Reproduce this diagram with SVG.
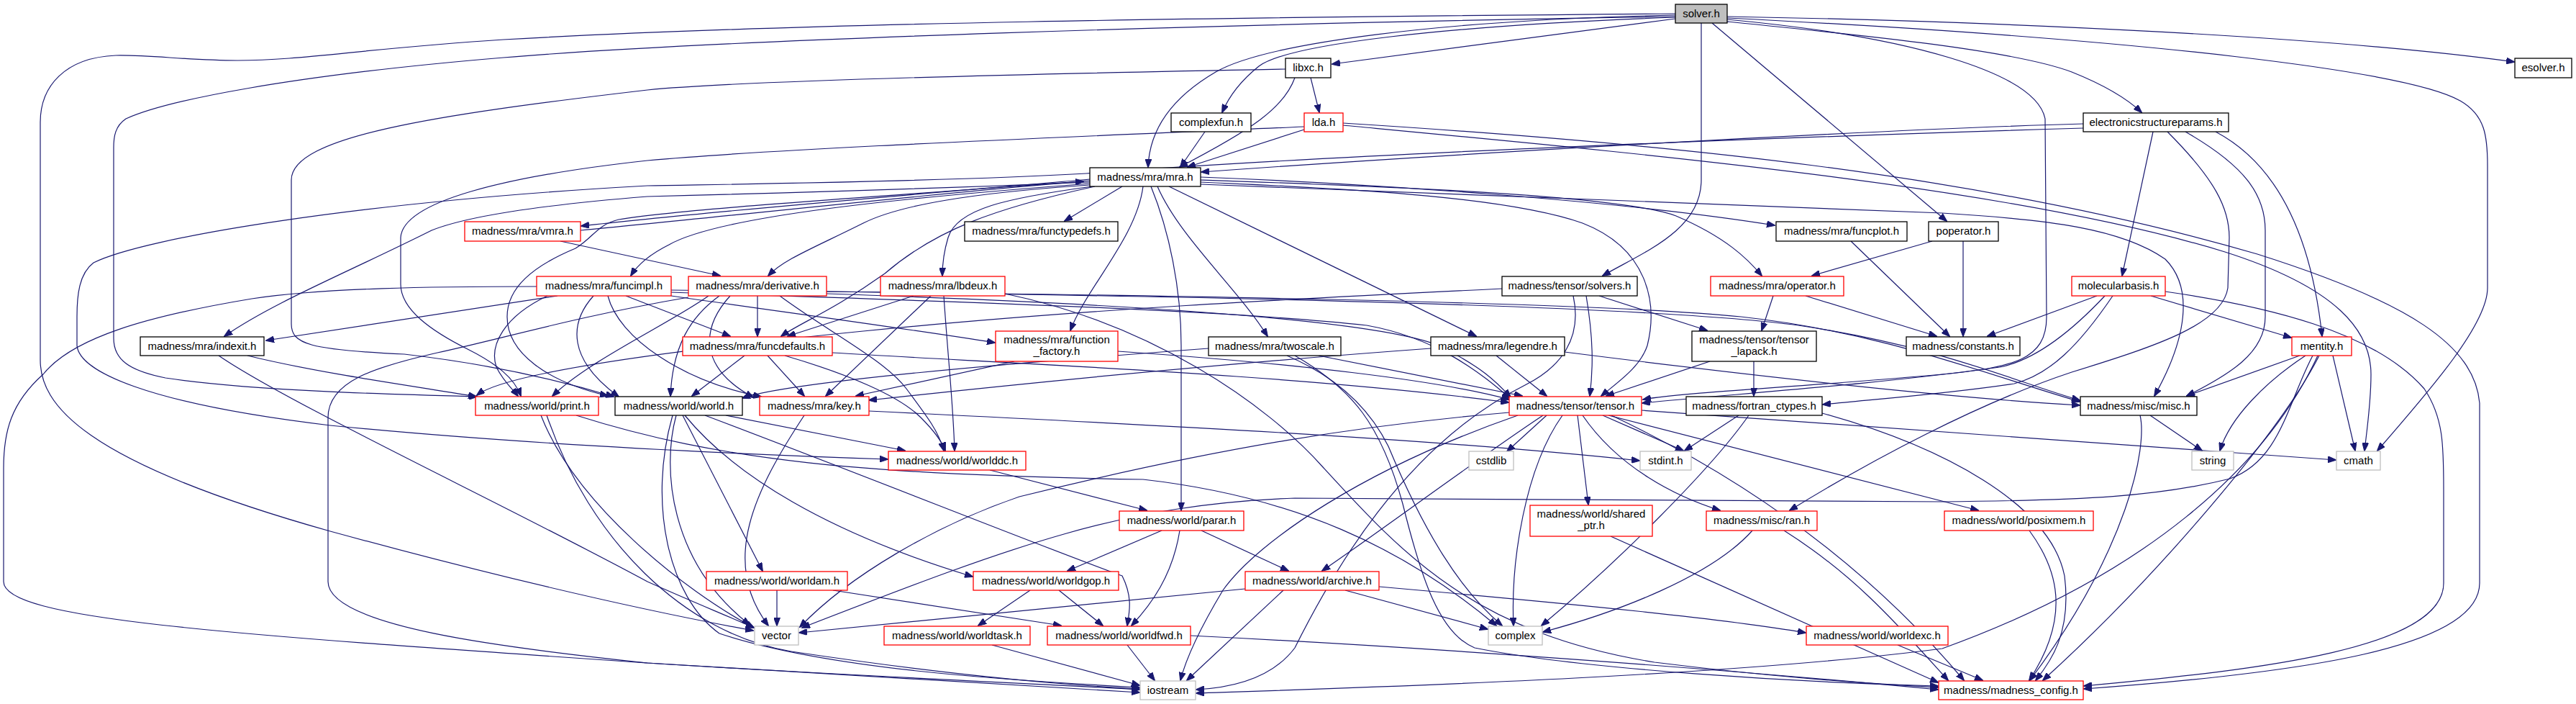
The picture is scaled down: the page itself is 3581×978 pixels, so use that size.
<svg xmlns="http://www.w3.org/2000/svg" width="3581" height="978" viewBox="0 0 3581 978">
<style>
.e path{fill:none;stroke:#191970;stroke-width:1.2;marker-end:url(#a)}
.n rect{fill:#fff;stroke:#000;stroke-width:1.3}
.n.r rect{stroke:#ff0000}
.n.g rect{stroke:#bfbfbf}
.n.s rect{fill:#bfbfbf}
text{font-family:"Liberation Sans",Arial,sans-serif;font-size:15px;text-anchor:middle;fill:#000}
</style>
<defs>
<marker id="a" markerWidth="12" markerHeight="9" refX="11" refY="4.5" orient="auto" markerUnits="userSpaceOnUse"><path d="M0,0 L12,4.5 L0,9 z" fill="#191970" stroke="#191970" stroke-width="1"/></marker>
</defs>
<rect width="3581" height="978" fill="#fff"/>
<g id="edges" class="e">
<path d="M2329,26 L1852,89"/>
<path d="M2401,23 C2800,30 3250,52 3495,86"/>
<path d="M2329,21 C2000,28 1760,60 1690,100 C1630,135 1598,180 1596,232"/>
<path d="M2329,24 C2000,36 1790,62 1750,92 C1725,112 1708,135 1699,156"/>
<path d="M2401,30 C2600,50 2800,70 2880,100 C2930,120 2960,140 2977,156"/>
<path d="M2380,32 L2706,307"/>
<path d="M2365,32 L2365,250 C2365,320 2285,350 2228,383"/>
<path d="M2401,27 C2650,50 2830,100 2843,165 L2845,440 C2845,500 2800,510 2700,520 C2500,538 2340,545 2284,555"/>
<path d="M2401,25 C3000,55 3350,100 3420,140 C3455,160 3458,190 3458,230 L3458,400 C3458,450 3380,540 3305,626"/>
<path d="M2329,19 C1700,24 1100,32 700,55 C500,68 420,84 330,84 C260,84 210,76 161,77 C90,80 56,120 56,170 L56,500 C56,560 110,640 459,738 C650,790 850,840 1047,876"/>
<path d="M2329,23 C1700,33 1000,55 700,80 C400,105 230,140 175,165 C160,175 158,190 158,205 L158,470 C158,500 180,515 230,525 C350,543 550,548 663,551"/>
<path d="M1800,108 C1785,150 1740,180 1640,232"/>
<path d="M1822,108 L1834,156"/>
<path d="M1787,96 C1300,105 1000,115 900,125 C600,160 405,190 405,250 L405,450 C405,478 430,486 562,492 C700,508 800,535 853,551"/>
<path d="M1675,183 L1641,232"/>
<path d="M1813,180 L1651,232"/>
<path d="M1813,176 C1500,190 1100,205 900,223 C700,245 560,280 557,330 L557,395 C557,430 600,460 650,485 C690,505 715,525 724,550"/>
<path d="M1867,174 C2300,215 2800,260 3093,350 C3250,400 3296,460 3296,520 C3296,560 3290,600 3287,626"/>
<path d="M1867,171 C2300,198 2750,240 3138,353 C3350,420 3440,480 3447,560 L3447,810 C3447,900 3200,935 2897,957"/>
<path d="M2896,172 C2600,180 2000,215 1670,239"/>
<path d="M2896,178 C2500,190 1900,212 1510,241 C1300,253 1000,256 900,258 C500,280 200,330 130,365 C110,380 107,410 107,440 L107,480 C110,515 200,560 459,591 C700,615 1000,630 1234,638"/>
<path d="M2993,183 L2950,383"/>
<path d="M3038,183 C3120,230 3149,270 3149,320 L3149,440 C3149,490 3100,520 3040,550"/>
<path d="M3080,183 C3150,220 3210,300 3228,467"/>
<path d="M3013,183 C3080,250 3099,290 3099,330 L3097,400 C3090,450 3000,480 2880,517 C2750,560 2600,640 2488,709"/>
<path d="M2915,411 L2763,467"/>
<path d="M2990,411 L3185,469"/>
<path d="M3010,405 C3150,425 3300,460 3370,540 C3397,580 3397,620 3397,680 L3397,810 C3397,900 3150,930 2897,953"/>
<path d="M2926,411 C2880,460 2830,500 2780,510 C2600,535 2400,548 2283,560"/>
<path d="M2937,411 C2890,480 2850,520 2800,533 C2700,548 2600,555 2534,562"/>
<path d="M1515,249 C1300,268 1000,292 808,314"/>
<path d="M807,320 C1000,302 1300,268 1506,252"/>
<path d="M779,335 L1001,383"/>
<path d="M1560,259 L1480,307"/>
<path d="M1515,255 C1250,275 1000,300 930,340 C900,355 885,370 877,383"/>
<path d="M1515,257 C1350,268 1250,285 1200,310 C1130,345 1090,360 1068,383"/>
<path d="M1518,259 C1400,275 1330,290 1318,330 C1312,350 1310,370 1310,383"/>
<path d="M1522,259 C1380,290 1300,320 1230,380 C1160,430 1110,450 1086,467"/>
<path d="M1589,259 C1580,330 1510,400 1488,459"/>
<path d="M1609,259 C1640,330 1720,400 1762,467"/>
<path d="M1625,259 L2052,467"/>
<path d="M1669,250 C1900,258 2250,270 2330,300 C2400,330 2430,360 2449,383"/>
<path d="M1669,246 C1900,255 2250,278 2467,313"/>
<path d="M1600,259 C1625,320 1642,400 1642,480 L1642,709"/>
<path d="M1669,253 C1900,263 2100,275 2200,310 C2290,345 2305,420 2290,480 C2280,510 2250,530 2226,550"/>
<path d="M1669,256 C2100,270 2500,290 2700,296 C2850,305 2950,318 3010,360 C3050,400 3040,470 2995,550"/>
<path d="M1515,253 C1300,262 1100,268 900,273 C750,285 650,300 600,320 C480,380 380,420 312,467"/>
<path d="M1515,251 C1200,275 950,290 860,305 C830,312 825,330 800,345 C740,370 705,400 705,440 C705,490 760,530 845,550"/>
<path d="M775,411 L370,473"/>
<path d="M761,411 C700,440 680,480 690,510 C700,530 712,540 720,550"/>
<path d="M825,411 C790,450 790,500 860,551"/>
<path d="M870,411 L1015,467"/>
<path d="M933,411 C1100,435 1250,455 1383,476"/>
<path d="M845,411 C860,470 950,530 1058,551"/>
<path d="M933,406 C1300,418 1700,430 1900,452 C2000,470 2060,520 2099,553"/>
<path d="M933,403 C1500,408 2200,418 2420,440 C2620,462 2760,520 2891,558"/>
<path d="M746,398 C600,398 450,400 350,415 C200,440 100,470 60,520 C15,560 5,600 5,650 L5,808 C5,860 300,880 900,921 C1200,940 1450,950 1584,958"/>
<path d="M1053,411 L1053,467"/>
<path d="M985,411 C930,450 820,500 768,550"/>
<path d="M1000,411 C960,440 935,480 932,550"/>
<path d="M1015,411 C975,455 970,510 1047,552"/>
<path d="M1149,408 C1500,420 1900,440 2000,480 C2060,510 2080,530 2100,552"/>
<path d="M1149,405 C1700,412 2300,425 2500,452 C2700,482 2800,530 2891,556"/>
<path d="M1084,411 C1150,460 1230,500 1260,540 C1290,580 1305,600 1312,626"/>
<path d="M957,413 C800,440 700,470 608,490 C520,510 456,530 456,580 L456,808 C456,870 700,900 900,921 C1200,940 1450,952 1584,962"/>
<path d="M1270,411 L1095,467"/>
<path d="M1294,411 L1148,550"/>
<path d="M1312,411 C1318,500 1325,560 1327,626"/>
<path d="M1397,408 C1600,450 1760,560 1840,650 C1950,770 2050,880 2300,920 C2500,945 2620,950 2694,955"/>
<path d="M1035,494 L962,550"/>
<path d="M1067,494 L1118,550"/>
<path d="M1157,490 C1400,505 1800,520 2097,559"/>
<path d="M1091,494 C1180,520 1250,550 1280,580 C1300,600 1310,615 1314,626"/>
<path d="M1410,502 L1190,550"/>
<path d="M1554,488 C1800,505 2000,528 2098,555"/>
<path d="M1833,494 L2116,550"/>
<path d="M1680,484 C1400,505 1100,530 1032,553"/>
<path d="M1789,494 C1850,520 1900,560 1930,620 C1980,740 2030,820 2088,869"/>
<path d="M1800,494 C1880,540 1920,590 1950,700 C1975,800 2000,880 2050,900 C2200,930 2500,948 2694,953"/>
<path d="M2080,494 L2150,550"/>
<path d="M1989,484 C1700,505 1400,535 1208,556"/>
<path d="M2175,489 C2500,530 2750,555 2891,563"/>
<path d="M2205,411 C2215,470 2215,510 2210,550"/>
<path d="M2223,411 L2373,459"/>
<path d="M2088,401 C1800,415 1500,430 1200,460 C900,490 700,520 663,549"/>
<path d="M2187,411 C2200,470 2170,510 2120,535 C1950,620 1850,800 1800,900 C1770,940 1720,955 1663,958"/>
<path d="M2465,411 L2449,459"/>
<path d="M2510,411 L2692,467"/>
<path d="M2377,502 L2233,550"/>
<path d="M2438,502 L2438,550"/>
<path d="M2573,335 L2710,467"/>
<path d="M2686,335 L2519,383"/>
<path d="M2729,335 L2729,467"/>
<path d="M3197,494 L3040,550"/>
<path d="M3205,494 C3150,530 3100,580 3086,626"/>
<path d="M3243,494 L3274,626"/>
<path d="M3224,494 C3170,600 3000,800 2840,945"/>
<path d="M3215,494 C3180,560 3170,640 3100,665 C3000,690 2900,695 2700,697 L1800,692 C1560,701 1417,755 1115,872"/>
<path d="M3222,494 C3150,650 2980,800 2700,901 C2400,940 1900,955 1663,963"/>
<path d="M2989,577 L3061,626"/>
<path d="M2975,577 C2985,620 2960,760 2822,945"/>
<path d="M2150,577 L2095,627"/>
<path d="M2228,577 L2340,626"/>
<path d="M2193,577 L2208,701"/>
<path d="M2172,577 C2120,650 2100,780 2104,869"/>
<path d="M2200,577 C2250,650 2330,690 2391,709"/>
<path d="M2236,577 L2750,709"/>
<path d="M2145,577 C2050,640 1930,730 1838,793"/>
<path d="M2098,573 C1900,590 1700,620 1417,690 C1300,730 1180,800 1112,871"/>
<path d="M2110,577 C1900,650 1750,750 1700,820 C1670,870 1650,910 1641,945"/>
<path d="M2282,570 L3247,639"/>
<path d="M2240,577 C2500,700 2650,850 2730,945"/>
<path d="M2431,577 C2380,650 2250,780 2143,869"/>
<path d="M2417,577 L2342,626"/>
<path d="M2533,574 C2700,620 2850,700 2870,800 C2880,880 2850,920 2830,945"/>
<path d="M2239,745 L2694,948"/>
<path d="M2436,737 C2380,800 2250,850 2145,878"/>
<path d="M2480,737 C2580,800 2640,870 2708,945"/>
<path d="M2821,737 C2860,790 2880,855 2821,945"/>
<path d="M2638,896 L2756,945"/>
<path d="M1731,818 C1500,840 1300,860 1111,879"/>
<path d="M1870,820 L2068,874"/>
<path d="M1917,815 C2200,840 2400,860 2510,879"/>
<path d="M1784,820 L1650,945"/>
<path d="M1615,737 L1484,793"/>
<path d="M1640,737 C1630,800 1600,840 1573,869"/>
<path d="M1670,737 L1791,793"/>
<path d="M1376,653 L1594,709"/>
<path d="M1432,820 L1360,869"/>
<path d="M1472,820 L1533,869"/>
<path d="M1080,820 L1080,869"/>
<path d="M1158,820 L1475,869"/>
<path d="M1379,896 L1584,952"/>
<path d="M1567,896 L1605,945"/>
<path d="M1655,883 C2000,900 2400,930 2694,958"/>
<path d="M940,577 C920,650 930,780 1042,868"/>
<path d="M949,577 L1060,793"/>
<path d="M952,577 C1020,660 1150,740 1352,801"/>
<path d="M980,577 C1200,660 1450,760 1560,800 C1575,830 1570,850 1567,869"/>
<path d="M1009,577 L1258,626"/>
<path d="M935,577 C900,700 930,830 1000,880 C1150,930 1400,945 1584,955"/>
<path d="M1118,577 C1050,680 1000,780 1068,869"/>
<path d="M1208,571 C1600,590 2000,610 2279,640"/>
<path d="M752,577 C800,700 950,820 1048,872"/>
<path d="M760,577 C820,750 950,880 1100,905 C1300,935 1450,950 1584,957"/>
<path d="M801,577 C1000,640 1200,660 1589,666 C1800,690 1950,760 2080,869"/>
<path d="M344,494 C450,520 600,540 662,551"/>
<path d="M304,494 C400,560 700,700 900,808 C960,835 1010,855 1048,872"/>
</g>
<g id="n-solver" class="n s"><rect x="2329" y="6" width="72" height="26"/><text x="2365" y="24">solver.h</text></g>
<g id="n-libxc" class="n"><rect x="1787" y="81" width="63" height="27"/><text x="1818.5" y="99">libxc.h</text></g>
<g id="n-esolver" class="n"><rect x="3496" y="81" width="79" height="27"/><text x="3535.5" y="99">esolver.h</text></g>
<g id="n-complexfun" class="n"><rect x="1628" y="157" width="111" height="26"/><text x="1683.5" y="175">complexfun.h</text></g>
<g id="n-lda" class="n r"><rect x="1813" y="157" width="54" height="26"/><text x="1840" y="175">lda.h</text></g>
<g id="n-esp" class="n"><rect x="2896" y="157" width="202" height="26"/><text x="2997" y="175">electronicstructureparams.h</text></g>
<g id="n-mra" class="n"><rect x="1515" y="233" width="154" height="26"/><text x="1592" y="251">madness/mra/mra.h</text></g>
<g id="n-vmra" class="n r"><rect x="646" y="308" width="161" height="27"/><text x="726.5" y="326">madness/mra/vmra.h</text></g>
<g id="n-functypedefs" class="n"><rect x="1341" y="308" width="213" height="27"/><text x="1447.5" y="326">madness/mra/functypedefs.h</text></g>
<g id="n-funcplot" class="n"><rect x="2469" y="308" width="182" height="27"/><text x="2560" y="326">madness/mra/funcplot.h</text></g>
<g id="n-poperator" class="n"><rect x="2681" y="308" width="97" height="27"/><text x="2729.5" y="326">poperator.h</text></g>
<g id="n-funcimpl" class="n r"><rect x="746" y="384" width="187" height="27"/><text x="839.5" y="402">madness/mra/funcimpl.h</text></g>
<g id="n-derivative" class="n r"><rect x="957" y="384" width="192" height="27"/><text x="1053" y="402">madness/mra/derivative.h</text></g>
<g id="n-lbdeux" class="n r"><rect x="1224" y="384" width="173" height="27"/><text x="1310.5" y="402">madness/mra/lbdeux.h</text></g>
<g id="n-solvers" class="n"><rect x="2088" y="384" width="188" height="27"/><text x="2182" y="402">madness/tensor/solvers.h</text></g>
<g id="n-operator" class="n r"><rect x="2378" y="384" width="185" height="27"/><text x="2470.5" y="402">madness/mra/operator.h</text></g>
<g id="n-molecularbasis" class="n r"><rect x="2880" y="384" width="130" height="27"/><text x="2945" y="402">molecularbasis.h</text></g>
<g id="n-indexit" class="n"><rect x="195" y="468" width="172" height="26"/><text x="281" y="486">madness/mra/indexit.h</text></g>
<g id="n-funcdefaults" class="n r"><rect x="949" y="468" width="208" height="26"/><text x="1053" y="486">madness/mra/funcdefaults.h</text></g>
<g id="n-function_factory" class="n r"><rect x="1384" y="460" width="170" height="42"/><text x="1469" y="477">madness/mra/function</text><text x="1469" y="493">_factory.h</text></g>
<g id="n-twoscale" class="n"><rect x="1680" y="468" width="184" height="26"/><text x="1772" y="486">madness/mra/twoscale.h</text></g>
<g id="n-legendre" class="n"><rect x="1989" y="468" width="186" height="26"/><text x="2082" y="486">madness/mra/legendre.h</text></g>
<g id="n-tensor_lapack" class="n"><rect x="2352" y="460" width="173" height="42"/><text x="2438.5" y="477">madness/tensor/tensor</text><text x="2438.5" y="493">_lapack.h</text></g>
<g id="n-constants" class="n"><rect x="2650" y="468" width="158" height="26"/><text x="2729" y="486">madness/constants.h</text></g>
<g id="n-mentity" class="n r"><rect x="3186" y="468" width="83" height="26"/><text x="3227.5" y="486">mentity.h</text></g>
<g id="n-print" class="n r"><rect x="661" y="551" width="171" height="26"/><text x="746.5" y="569">madness/world/print.h</text></g>
<g id="n-world" class="n"><rect x="855" y="551" width="177" height="26"/><text x="943.5" y="569">madness/world/world.h</text></g>
<g id="n-key" class="n r"><rect x="1056" y="551" width="152" height="26"/><text x="1132" y="569">madness/mra/key.h</text></g>
<g id="n-tensor" class="n r"><rect x="2098" y="551" width="184" height="26"/><text x="2190" y="569">madness/tensor/tensor.h</text></g>
<g id="n-fortran" class="n"><rect x="2344" y="551" width="189" height="26"/><text x="2438.5" y="569">madness/fortran_ctypes.h</text></g>
<g id="n-misc" class="n"><rect x="2892" y="551" width="162" height="26"/><text x="2973" y="569">madness/misc/misc.h</text></g>
<g id="n-worlddc" class="n r"><rect x="1235" y="627" width="191" height="26"/><text x="1330.5" y="645">madness/world/worlddc.h</text></g>
<g id="n-cstdlib" class="n g"><rect x="2042" y="627" width="62" height="26"/><text x="2073" y="645">cstdlib</text></g>
<g id="n-stdint" class="n g"><rect x="2280" y="627" width="71" height="26"/><text x="2315.5" y="645">stdint.h</text></g>
<g id="n-string" class="n g"><rect x="3047" y="627" width="58" height="26"/><text x="3076" y="645">string</text></g>
<g id="n-cmath" class="n g"><rect x="3248" y="627" width="61" height="26"/><text x="3278.5" y="645">cmath</text></g>
<g id="n-parar" class="n r"><rect x="1556" y="710" width="173" height="27"/><text x="1642.5" y="728">madness/world/parar.h</text></g>
<g id="n-shared_ptr" class="n r"><rect x="2127" y="702" width="170" height="43"/><text x="2212" y="719">madness/world/shared</text><text x="2212" y="735">_ptr.h</text></g>
<g id="n-ran" class="n r"><rect x="2372" y="710" width="154" height="27"/><text x="2449" y="728">madness/misc/ran.h</text></g>
<g id="n-posixmem" class="n r"><rect x="2703" y="710" width="207" height="27"/><text x="2806.5" y="728">madness/world/posixmem.h</text></g>
<g id="n-worldam" class="n r"><rect x="982" y="794" width="196" height="26"/><text x="1080" y="812">madness/world/worldam.h</text></g>
<g id="n-worldgop" class="n r"><rect x="1353" y="794" width="202" height="26"/><text x="1454" y="812">madness/world/worldgop.h</text></g>
<g id="n-archive" class="n r"><rect x="1731" y="794" width="186" height="26"/><text x="1824" y="812">madness/world/archive.h</text></g>
<g id="n-vector" class="n g"><rect x="1049" y="870" width="61" height="26"/><text x="1079.5" y="888">vector</text></g>
<g id="n-worldtask" class="n r"><rect x="1229" y="870" width="203" height="26"/><text x="1330.5" y="888">madness/world/worldtask.h</text></g>
<g id="n-worldfwd" class="n r"><rect x="1456" y="870" width="199" height="26"/><text x="1555.5" y="888">madness/world/worldfwd.h</text></g>
<g id="n-complex" class="n g"><rect x="2069" y="870" width="75" height="26"/><text x="2106.5" y="888">complex</text></g>
<g id="n-worldexc" class="n r"><rect x="2511" y="870" width="197" height="26"/><text x="2609.5" y="888">madness/world/worldexc.h</text></g>
<g id="n-iostream" class="n g"><rect x="1585" y="946" width="77" height="26"/><text x="1623.5" y="964">iostream</text></g>
<g id="n-config" class="n r"><rect x="2695" y="946" width="201" height="26"/><text x="2795.5" y="964">madness/madness_config.h</text></g>
</svg>
